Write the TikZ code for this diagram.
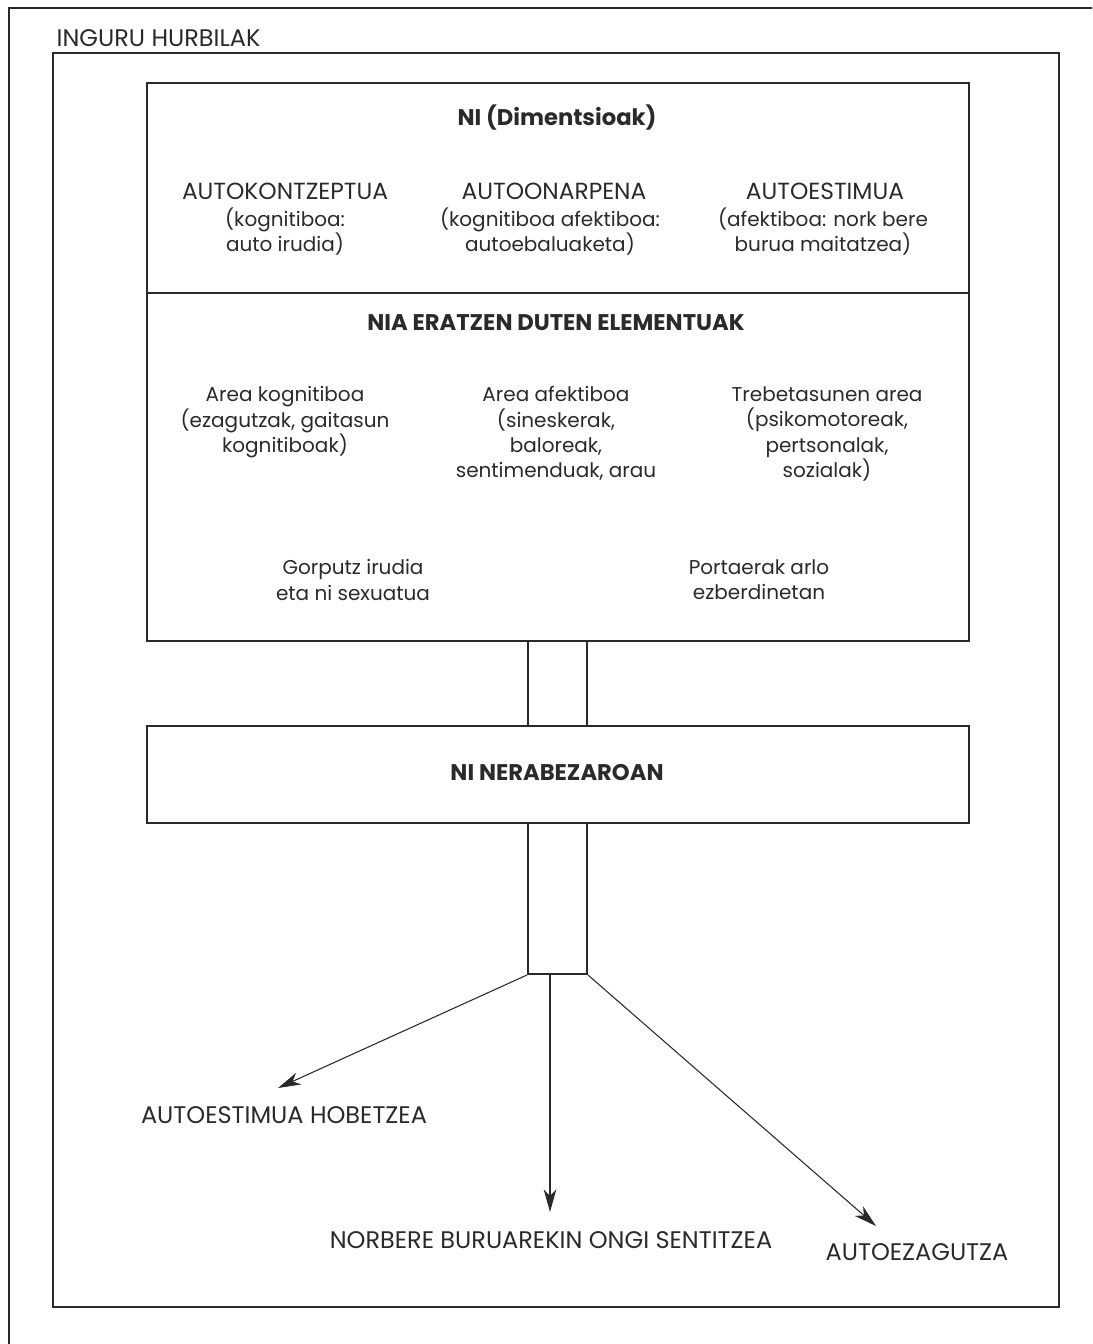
\documentclass[tikz,border=0pt]{standalone}
\usepackage{fontspec}
\setmainfont{Poppins}
\usetikzlibrary{arrows.meta}
\definecolor{ink}{HTML}{2A2A2A}
\tikzset{
  boxnode/.style={draw=ink, line width=1.5pt, inner sep=0pt, anchor=north west},
  big/.style={font=\fontsize{17.5}{19}\selectfont, align=center, text=ink},
  bigger/.style={font=\fontsize{18}{19}\selectfont, align=center, text=ink},
  small/.style={font=\fontsize{15}{19}\selectfont, align=center, text=ink},
  head/.style={font=\bfseries\fontsize{17}{19}\selectfont, align=center, text=ink},
  arr/.style={draw=ink, line width=0.8pt, -{Stealth[length=17pt,width=9.5pt,inset=5pt]}},
}
\begin{document}
\begin{tikzpicture}[x=0.75pt,y=-0.75pt]
\useasboundingbox (0,0) rectangle (1092,1344);
\clip (0,0) rectangle (1092,1344);
% outer frames
\node[boxnode, minimum width=1100*0.75pt, minimum height=1350*0.75pt] (outer) at (8,7) {};
\node[boxnode, minimum width=1006*0.75pt, minimum height=1254*0.75pt] (env) at (52,52) {};
\node[bigger, anchor=west] (envlab) at (52,38) {INGURU HURBILAK};
% main boxes
\node[boxnode, minimum width=822*0.75pt, minimum height=210*0.75pt] (ni) at (146,82) {};
\node[boxnode, minimum width=822*0.75pt, minimum height=348*0.75pt] (elem) at (146,292) {};
\node[boxnode, minimum width=59*0.75pt, minimum height=85*0.75pt] (link) at (527,640) {};
\node[boxnode, minimum width=822*0.75pt, minimum height=97*0.75pt] (nera) at (146,725) {};
\node[boxnode, minimum width=59*0.75pt, minimum height=151*0.75pt] (stem) at (527,822) {};
% NI dimensions
\node[head] (nihead) at (557,118) {NI (Dimentsioak)};
\node[big, anchor=north] (d1) at (285,178) {AUTOKONTZEPTUA};
\node[small, anchor=north] (d1s) at (285,203) {(kognitiboa:\\auto irudia)};
\node[big, anchor=north] (d2) at (554,178) {AUTOONARPENA};
\node[small, anchor=north] (d2s) at (550,203) {(kognitiboa afektiboa:\\autoebaluaketa)};
\node[big, anchor=north] (d3) at (825,178) {AUTOESTIMUA};
\node[small, anchor=north] (d3s) at (823,203) {(afektiboa: nork bere\\burua maitatzea)};
% elements
\node[head] (elhead) at (556,323) {NIA ERATZEN DUTEN ELEMENTUAK};
\node[small, anchor=north] (e1) at (285,382) {Area kognitiboa\\(ezagutzak, gaitasun\\kognitiboak)};
\node[small, anchor=north] (e2) at (556,382) {Area afektiboa\\(sineskerak,\\baloreak,\\sentimenduak, arau};
\node[small, anchor=north] (e3) at (827,382) {Trebetasunen area\\(psikomotoreak,\\pertsonalak,\\sozialak)};
\node[small, anchor=north] (e4) at (353,555) {Gorputz irudia\\eta ni sexuatua};
\node[small, anchor=north] (e5) at (759,555) {Portaerak arlo\\ezberdinetan};
% NI NERABEZAROAN
\node[head] (nerahead) at (557,773) {NI NERABEZAROAN};
% outcomes
\node[bigger] (o1) at (284,1115) {AUTOESTIMUA HOBETZEA};
\node[bigger] (o2) at (551,1240) {NORBERE BURUAREKIN ONGI SENTITZEA};
\node[bigger] (o3) at (917,1252) {AUTOEZAGUTZA};
\coordinate (t1) at (278,1088);
\coordinate (t2) at (550,1212);
\coordinate (t3) at (876,1226);
\coordinate (s2) at (550,973);
\draw[arr] (stem.south west) -- (t1);
\draw[arr] (s2) -- (t2);
\draw[arr] (stem.south east) -- (t3);
\end{tikzpicture}
\end{document}
